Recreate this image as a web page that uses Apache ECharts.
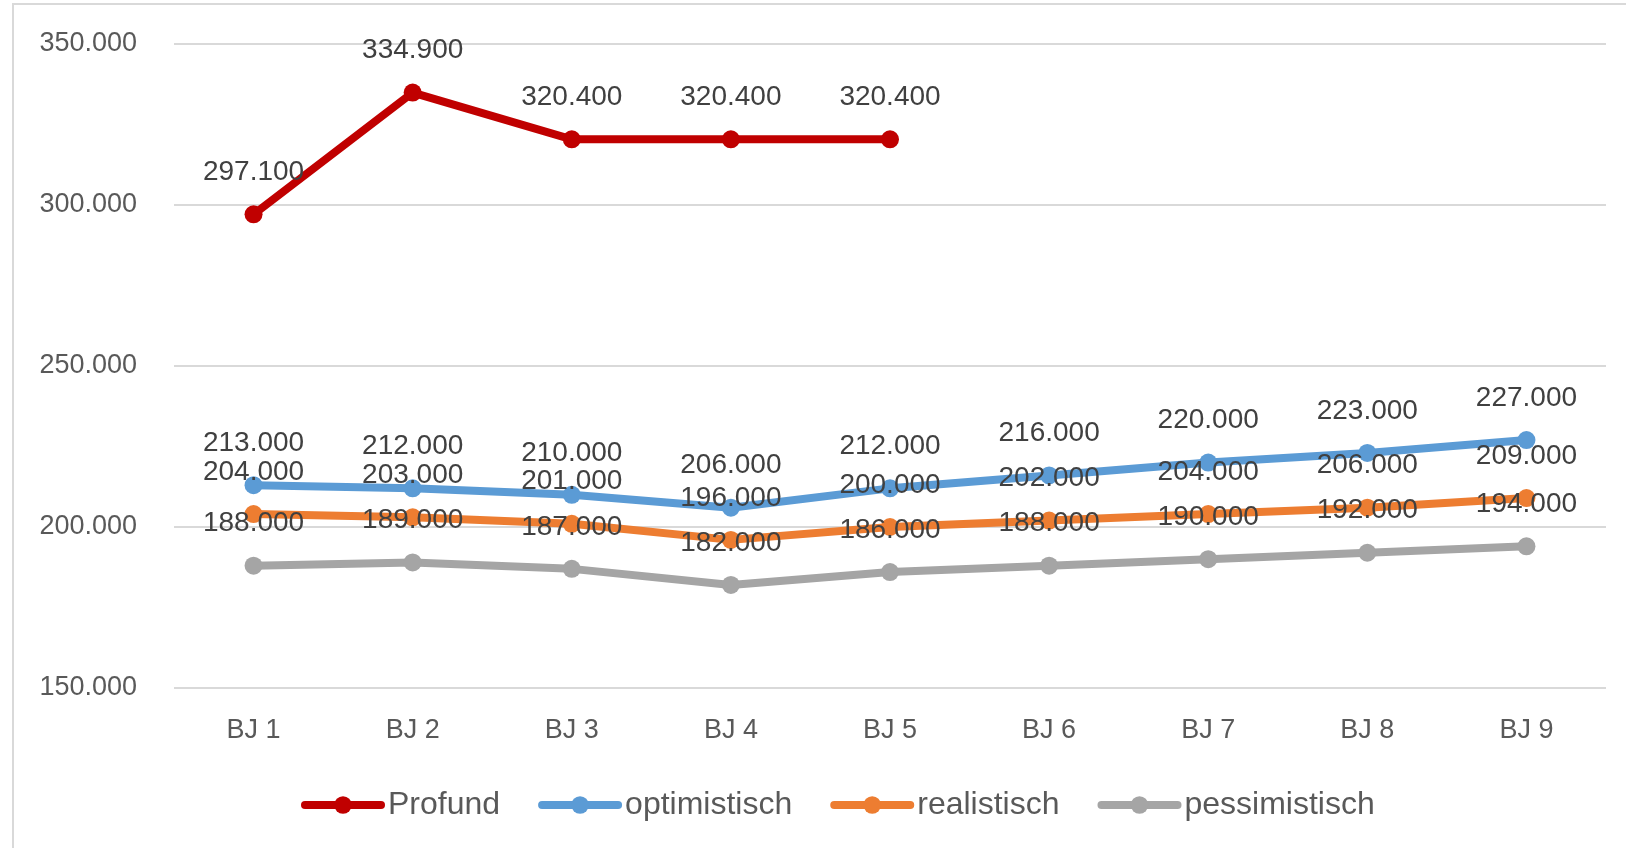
<!DOCTYPE html>
<html>
<head>
<meta charset="utf-8">
<script src="https://cdn.jsdelivr.net/npm/echarts@6/dist/echarts.min.js"></script>
<style>
html,body{margin:0;padding:0;background:#fff;}
#chart{width:1626px;height:848px;}
</style>
</head>
<body>
<div id="chart"></div>
<script>
const categories = ['BJ 1','BJ 2','BJ 3','BJ 4','BJ 5','BJ 6','BJ 7','BJ 8','BJ 9'];
const seriesNames = ['Profund','optimistisch','realistisch','pessimistisch'];
const profund = [297100, 334900, 320400, 320400, 320400, null, null, null, null];
const optimistisch = [213000, 212000, 210000, 206000, 212000, 216000, 220000, 223000, 227000];
const realistisch = [204000, 203000, 201000, 196000, 200000, 202000, 204000, 206000, 209000];
const pessimistisch = [188000, 189000, 187000, 182000, 186000, 188000, 190000, 192000, 194000];
const yMin = 150000, yMax = 350000, yInterval = 50000;
const colors = ['#C00000','#5B9BD5','#ED7D31','#A5A5A5'];

const FONT = "'Liberation Sans Narrow', 'Arial Narrow', 'Liberation Sans', Arial, sans-serif";
function fmt(v){
  if (v === null || v === undefined) return '';
  return String(Math.round(v)).replace(/\B(?=(\d{3})+(?!\d))/g, '.');
}
const dataSets = [profund, optimistisch, realistisch, pessimistisch];

const chart = echarts.init(document.getElementById('chart'));
chart.setOption({
  animation: false,
  backgroundColor: '#fff',
  graphic: [{
    type: 'rect',
    shape: {x: 13, y: 4, width: 1700, height: 900},
    style: {fill: 'none', stroke: '#D9D9D9', lineWidth: 2},
    silent: true, z: -10
  }],
  grid: {left: 174, right: 20, top: 44, bottom: 160, containLabel: false},
  legend: {
    data: seriesNames,
    left: 296, top: 784,
    itemWidth: 76, itemHeight: 22, itemGap: 38,
    lineStyle: {width: 8, cap: 'round'},
    textStyle: {fontFamily: FONT, fontSize: 32, color: '#595959', padding: [0,0,0,2]}
  },
  xAxis: {
    type: 'category',
    data: categories,
    boundaryGap: true,
    axisLine: {show: false},
    axisTick: {show: false},
    axisLabel: {fontFamily: FONT, fontSize: 27, color: '#595959', margin: 29}
  },
  yAxis: {
    type: 'value',
    min: yMin, max: yMax, interval: yInterval,
    axisLine: {show: false},
    axisTick: {show: false},
    splitLine: {lineStyle: {color: '#D9D9D9', width: 2}},
    axisLabel: {fontFamily: FONT, fontSize: 27, color: '#595959', margin: 37, formatter: fmt}
  },
  series: seriesNames.map((n, i) => ({
    name: n,
    type: 'line',
    data: dataSets[i],
    color: colors[i],
    symbol: 'circle',
    symbolSize: 18,
    showAllSymbol: true,
    connectNulls: false,
    lineStyle: {width: 8, color: colors[i], cap: 'round', join: 'round'},
    itemStyle: {color: colors[i]},
    label: {
      show: true, position: 'top', distance: 19,
      fontFamily: FONT, fontSize: 28, color: '#404040',
      formatter: p => fmt(p.value)
    },
    emphasis: {disabled: true}
  }))
});
</script>
</body>
</html>
